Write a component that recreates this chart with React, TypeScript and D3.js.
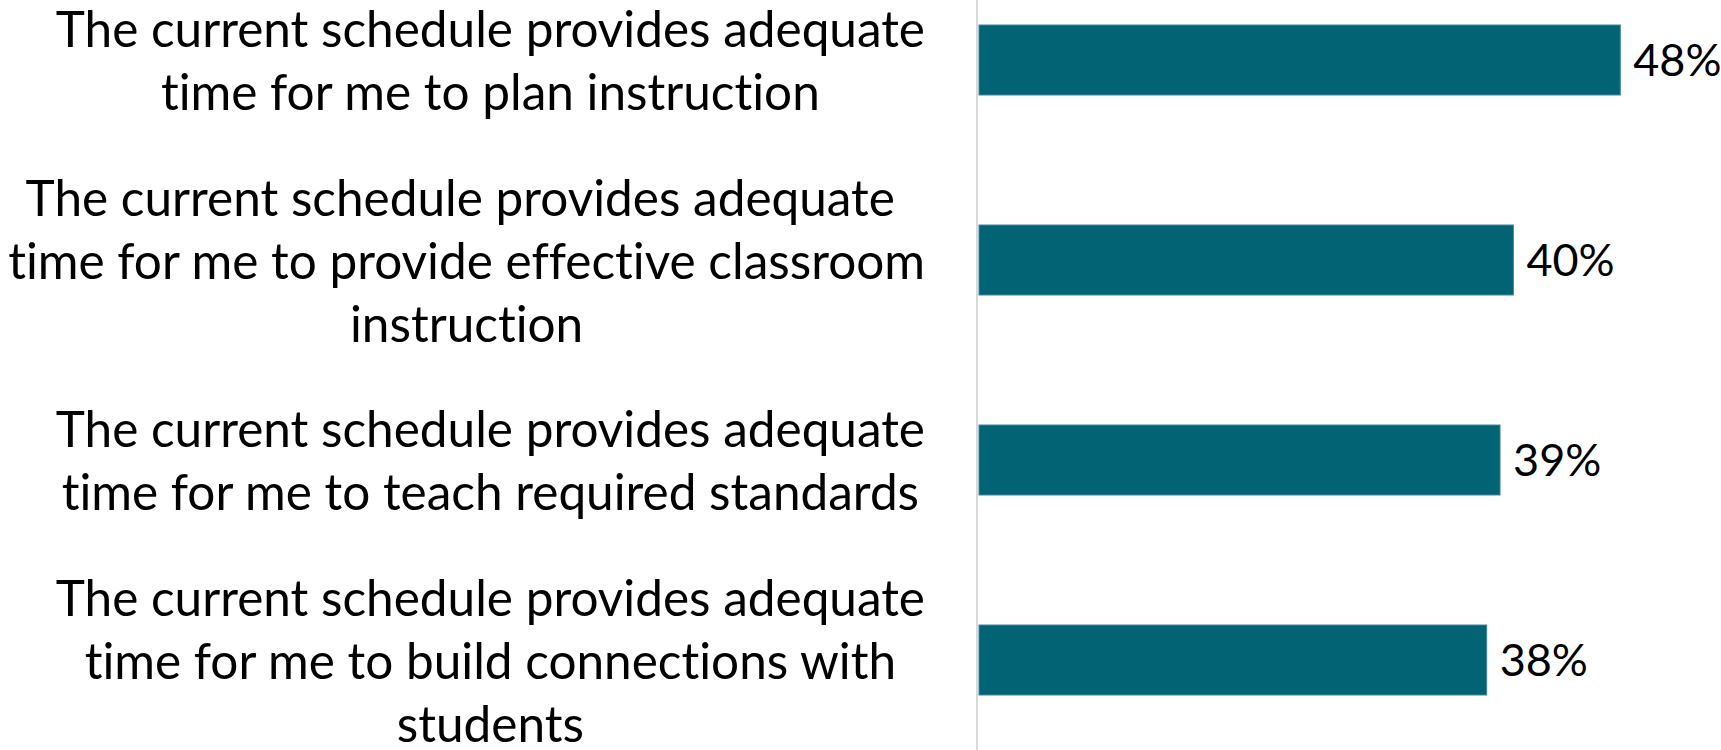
import { scaleBand, scaleLinear } from "d3";
import { useLayoutEffect, useRef, useState } from "react";

const width = 1721;
const height = 750;

// each label is broken into lines the way the original chart wraps them
const labels = [
  ["The current schedule provides adequate", "time for me to plan instruction"],
  ["The current schedule provides adequate ", "time for me to provide effective classroom", "instruction"],
  ["The current schedule provides adequate", "time for me to teach required standards"],
  ["The current schedule provides adequate", "time for me to build connections with", "students"],
];
const values = [0.48, 0.40, 0.39, 0.38];
const valueLabels = ["48%", "40%", "39%", "38%"];

const barColor = "#026375";
const font = "Lato, 'Open Sans', sans-serif";
const fontSize = 49.5;
const valueFontSize = 45;
const lineHeight = 63;
const axisX = 977;
const labelRight = 925;

export default function App() {
  const xScale = scaleLinear().domain([0, 0.5]).range([axisX + 2, axisX + 2 + 668]);
  const yScale = scaleBand<number>()
    .domain(labels.map((_, i) => i))
    .range([-40, 760])
    .paddingInner(0.65)
    .paddingOuter(0.325);

  const refs = useRef<(SVGTextElement | null)[][]>([]);
  const [centers, setCenters] = useState<number[]>(labels.map(() => 491));

  useLayoutEffect(() => {
    // excel-like: lines are centered in a block whose right edge is fixed
    const c = labels.map((lines, i) => {
      const w = Math.max(...lines.map((_, j) => refs.current[i]?.[j]?.getComputedTextLength() ?? 0));
      return labelRight - w / 2;
    });
    setCenters(c);
  }, []);

  return (
    <svg
      width={width}
      height={height}
      style={{ position: "absolute", left: 0, top: 0, background: "#fff", fontVariantLigatures: "none" }}
      fontFamily={font}
    >
      <line x1={axisX} x2={axisX} y1={0} y2={height} stroke="#d9d9d9" strokeWidth={2} />
      {labels.map((lines, i) => {
        const cy = yScale(i)! + yScale.bandwidth() / 2;
        refs.current[i] = refs.current[i] || [];
        return (
          <g key={i}>
            {lines.map((line, j) => (
              <text
                key={j}
                ref={(el) => { refs.current[i][j] = el; }}
                x={centers[i]}
                y={cy + (j - (lines.length - 1) / 2) * lineHeight + 1}
                dy="0.36em"
                textAnchor="middle"
                fontSize={fontSize}
                fill="#000"
                style={{ whiteSpace: "pre" }}
              >
                {line}
              </text>
            ))}
            <rect
              x={xScale(0)}
              y={yScale(i)}
              width={xScale(values[i]) - xScale(0)}
              height={yScale.bandwidth()}
              fill={barColor}
              stroke="#3f8795"
              strokeWidth={1}
            />
            <text
              x={xScale(values[i]) + 13}
              y={cy}
              dy="0.36em"
              fontSize={valueFontSize}
              fill="#000"
            >
              {valueLabels[i]}
            </text>
          </g>
        );
      })}
    </svg>
  );
}
